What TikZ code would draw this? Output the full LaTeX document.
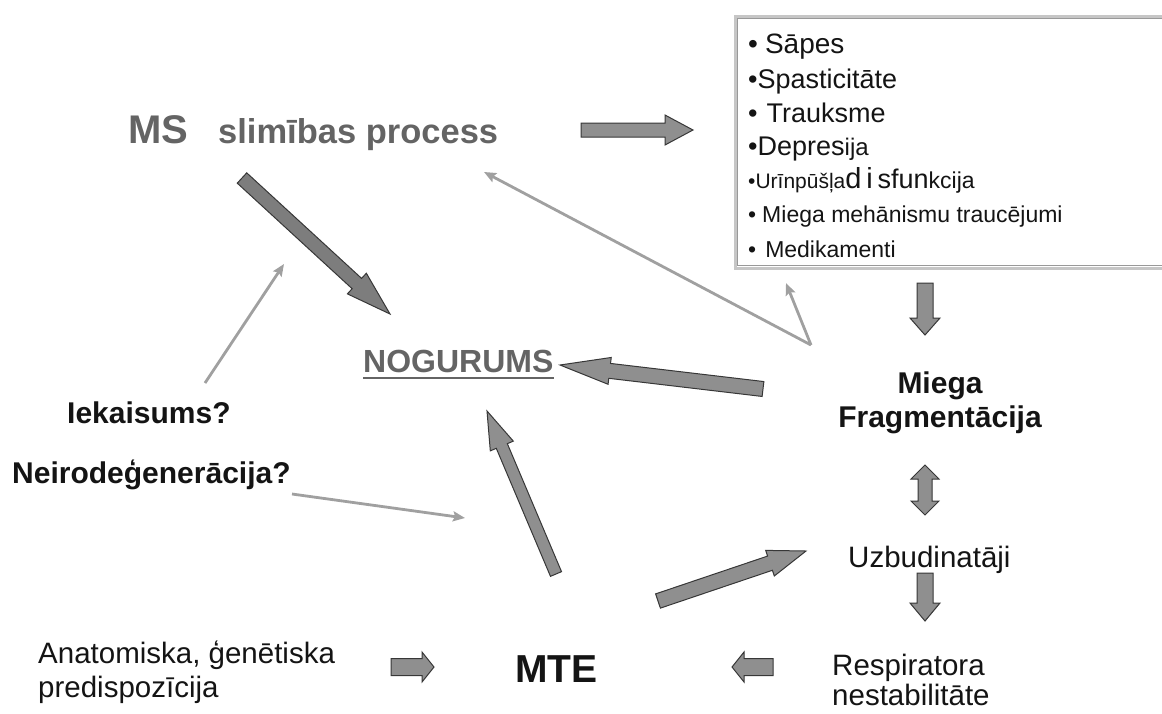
\documentclass[tikz,border=0pt]{standalone}
\usepackage{fontspec}
\setmainfont{Liberation Sans}
\usetikzlibrary{arrows.meta, positioning, calc}
\definecolor{labelgray}{RGB}{100,100,100}
\definecolor{inkblack}{RGB}{20,20,20}
\definecolor{arrowgray}{RGB}{143,143,143}
\definecolor{darkarrow}{RGB}{125,125,125}
\definecolor{arrowedge}{RGB}{55,55,55}
\definecolor{thingray}{RGB}{160,160,160}
\newcommand{\fsz}[2]{\fontsize{#1}{#2}\selectfont}
% block arrow: [fill]{tail}{tip}{half body}{half head}{head length}
\newcommand{\blockarrow}[6][arrowgray]{%
  \path ($(#3)!#6!(#2)$) coordinate (hb);
  \filldraw[fill=#1, draw=arrowedge, line width=1pt, line join=miter]
    ($(#2)!#4!90:(#3)$) -- ($(hb)!#4!-90:(#2)$) -- ($(hb)!#5!-90:(#2)$) -- (#3)
    -- ($(hb)!#5!90:(#2)$) -- ($(hb)!#4!90:(#2)$) -- ($(#2)!#4!-90:(#3)$) -- cycle;
}
% two-headed block arrow: {end a}{end b}{half body}{half head}{head length}
\newcommand{\dblarrow}[5]{%
  \path ($(#1)!#5!(#2)$) coordinate (hba) ($(#2)!#5!(#1)$) coordinate (hbb);
  \filldraw[fill=arrowgray, draw=arrowedge, line width=1pt, line join=miter]
    (#1) -- ($(hba)!#4!90:(#2)$) -- ($(hba)!#3!90:(#2)$) -- ($(hbb)!#3!-90:(#1)$)
    -- ($(hbb)!#4!-90:(#1)$) -- (#2) -- ($(hbb)!#4!90:(#1)$) -- ($(hbb)!#3!90:(#1)$)
    -- ($(hba)!#3!-90:(#2)$) -- ($(hba)!#4!-90:(#2)$) -- cycle;
}

\begin{document}
\begin{tikzpicture}[x=1pt, y=-1pt,
  lbl/.style={inner sep=0pt, text=inkblack},
  graylbl/.style={inner sep=0pt, text=labelgray},
  thinarrow/.style={draw=thingray, line width=2.8pt, -{Stealth[length=12pt, width=10pt, inset=2pt]}}]
  \clip (0,0) rectangle (1162,713);

  % top line
  \node[graylbl, anchor=base west, font={\bfseries\fsz{40}{46}}] (ms) at (128,143) {MS};
  \node[graylbl, anchor=base west, font={\bfseries\fsz{34.5}{40}}] (process) at (218,143) {slimības process};

  % list of causes
  \node[draw=gray!45, line width=3pt, minimum width=460pt, minimum height=252pt,
        anchor=north west, inner sep=0pt] (effects) at (733.5,14.5) {};
  \draw[gray!80, line width=0.9pt] ([shift={(4pt,-4pt)}]effects.north west)
    rectangle ([shift={(-4pt,4pt)}]effects.south east);
  \foreach \n/\yy/\sz/\txt in {
    sapes/53/28/{\textbullet\hspace{7pt}Sāpes},
    spast/88/27/{\textbullet Spasticitāte},
    trauk/122/27/{\textbullet\hspace{9pt}Trauksme},
    depr/155/27/{\textbullet Depres{\fsz{24}{24}ija}},
    urin/188/21/{\textbullet Urīnpūšļa{\fsz{29}{29}d\,i\,}{\fsz{27}{27}sfun}{\fsz{23}{23}kcija}},
    mieg/222/23/{\textbullet\hspace{6pt}Miega mehānismu traucējumi},
    medik/257/23/{\textbullet\hspace{9pt}Medikamenti}} {
    \node[lbl, anchor=base west, font=\fsz{\sz}{\sz}] (\n) at (748,\yy) {\txt};
  }

  % centre and right column
  \node[graylbl, anchor=base west, font={\bfseries\fsz{32}{36}}] (nogurums) at (363,372) {NOGURUMS};
  \draw[labelgray, line width=2pt] ([yshift=-5pt]nogurums.south west) -- ([yshift=-5pt]nogurums.south east);
  \node[lbl, align=center, anchor=north, font={\bfseries\fsz{30}{34}}] (fragm) at (940,372) {Miega\\Fragmentācija};
  \node[lbl, anchor=base west, font=\fsz{29.5}{34}] (arousal) at (848,567) {Uzbudinatāji};
  \node[lbl, align=left, anchor=north west, font=\fsz{29.5}{30}] (resp) at (832,654) {Respiratora\\nestabilitāte};
  \node[lbl, anchor=base west, font={\bfseries\fsz{39}{44}}] (mte) at (515,682) {MTE};
  \node[lbl, align=left, anchor=north west, font=\fsz{29.5}{34}] (predisp) at (38,641) {Anatomiska, ģenētiska\\predispozīcija};

  % left column
  \node[lbl, anchor=base west, font={\bfseries\fsz{30}{34}}] (inflam) at (67,423) {Iekaisums?};
  \node[lbl, anchor=base west, font={\bfseries\fsz{30}{34}}] (neuro) at (12,483) {Neirodeģenerācija?};

  % arrow ends
  \coordinate (prA) at (581,130);  \coordinate (prB) at (693,130);
  \coordinate (msA) at (242,178);  \coordinate (msB) at (390,314);
  \coordinate (bxA) at (925,283);  \coordinate (bxB) at (925,335);
  \coordinate (frA) at (763,389);  \coordinate (frB) at (560,365);
  \coordinate (mtA) at (556,574);  \coordinate (mtB) at (487,411);
  \coordinate (uzA) at (658,601);  \coordinate (uzB) at (806,551);
  \coordinate (dbA) at (925,465);  \coordinate (dbB) at (925,515);
  \coordinate (reA) at (925,573);  \coordinate (reB) at (925,621);
  \coordinate (pdA) at (391,667);  \coordinate (pdB) at (434,667);
  \coordinate (rsA) at (773,667);  \coordinate (rsB) at (732,667);
  \coordinate (fork) at (811,345);
  \coordinate (tipP) at (484,172); \coordinate (tipB) at (786,283);
  \coordinate (inA) at (205,383);  \coordinate (inB) at (284,264);
  \coordinate (neA) at (292,494);  \coordinate (neB) at (465,518);

  % block arrows
  \blockarrow{prA}{prB}{7pt}{15pt}{28pt}
  \blockarrow[darkarrow]{msA}{msB}{7pt}{14pt}{45pt}
  \blockarrow{bxA}{bxB}{8pt}{15pt}{17pt}
  \blockarrow{frA}{frB}{7.5pt}{13.5pt}{50pt}
  \blockarrow{mtA}{mtB}{6pt}{12.5pt}{38pt}
  \blockarrow{uzA}{uzB}{7.5pt}{13.5pt}{38pt}
  \dblarrow{dbA}{dbB}{7pt}{14pt}{14pt}
  \blockarrow{reA}{reB}{8pt}{15pt}{18pt}
  \blockarrow{pdA}{pdB}{8.5pt}{15pt}{12pt}
  \blockarrow{rsA}{rsB}{8.5pt}{15pt}{12pt}

  % thin arrows
  \draw[thinarrow] (fork) -- (tipP);
  \draw[thinarrow] (fork) -- (tipB);
  \draw[thinarrow] (inA) -- (inB);
  \draw[thinarrow] (neA) -- (neB);
\end{tikzpicture}
\end{document}
